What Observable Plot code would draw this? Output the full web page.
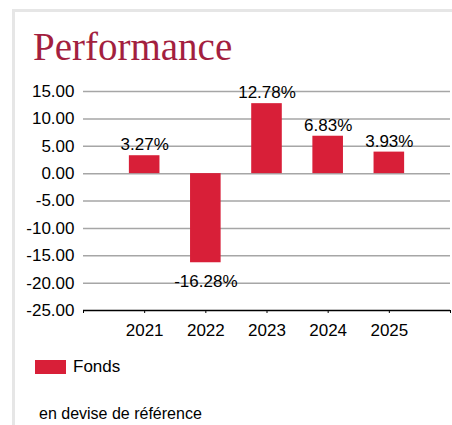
<!DOCTYPE html>
<html><head><meta charset="utf-8">
<script src="https://cdn.jsdelivr.net/npm/d3@7"></script>
<script src="https://cdn.jsdelivr.net/npm/@observablehq/plot@0.6"></script>
<style>
body{margin:0;width:452px;height:425px;overflow:hidden;background:#fff;position:relative;font-family:"Liberation Sans",Arial,sans-serif;}
#frame{position:absolute;left:12px;top:9px;width:460px;height:430px;border-left:3px solid #e6e6e6;border-top:3px solid #e6e6e6;}
#title{position:absolute;left:33px;top:27px;font-family:"Liberation Serif","Times New Roman",serif;font-size:39px;line-height:39px;color:#a31f3f;white-space:nowrap;}
#chart{position:absolute;left:0;top:70px;}
#legend{position:absolute;left:35px;top:358px;height:17px;display:flex;align-items:center;font-size:17px;color:#000;}
#legend .sw{width:31px;height:14px;background:#d81f38;margin-right:7px;}
#caption{position:absolute;left:39px;top:406px;font-size:16px;line-height:16px;color:#000;white-space:nowrap;}
</style></head>
<body>
<div id="frame"></div>
<div id="title">Performance</div>
<div id="chart"></div>
<div id="legend"><div class="sw"></div><span>Fonds</span></div>
<div id="caption">en devise de référence</div>
<script>
const years = [2021, 2022, 2023, 2024, 2025];
const fonds = [3.27, -16.28, 12.78, 6.83, 3.93];
const yTicks = [15, 10, 5, 0, -5, -10, -15, -20, -25];
const xTicks = [2020, 2021, 2022, 2023, 2024, 2025, 2026];
const seriesName = "Fonds";

const data = years.map((y, i) => ({year: y, value: fonds[i]}));
const barColor = "#d81f38";

const chart = Plot.plot({
  width: 452,
  height: 280,
  marginLeft: 83,
  marginRight: 2,
  marginTop: 21,
  marginBottom: 40,
  style: {fontFamily: "'Liberation Sans', Arial, sans-serif", fontSize: "17px", color: "#000", background: "transparent"},
  x: {domain: [2020, 2026]},
  y: {domain: [-25, 15]},
  marks: [
    Plot.gridY(yTicks.filter(t => t > -25), {stroke: "#a6a6a6", strokeOpacity: 1, strokeWidth: 1.5}),
    Plot.axisY({ticks: yTicks, tickSize: 0, tickPadding: 9, tickFormat: d => d.toFixed(2), label: null, fontSize: 17}),
    Plot.rectY(data, {x1: d => d.year - 0.25, x2: d => d.year + 0.25, y1: 0, y2: "value", fill: barColor}),
    Plot.ruleY([-25], {stroke: "#000", strokeWidth: 1.5}),
    Plot.axisX({ticks: xTicks, tickSize: 3, tickPadding: 10, tickFormat: d => years.includes(d) ? String(d) : "", label: null, fontSize: 17, stroke: "#000"}),
    Plot.text(data.filter(d => d.value >= 0), {x: "year", y: "value", text: d => d.value.toFixed(2) + "%", dy: -11, fontSize: 17, fill: "#000"}),
    Plot.text(data.filter(d => d.value < 0), {x: "year", y: "value", text: d => d.value.toFixed(2) + "%", dy: 18.5, fontSize: 17, fill: "#000"})
  ]
});
document.getElementById("chart").appendChild(chart);
</script>
</body></html>
